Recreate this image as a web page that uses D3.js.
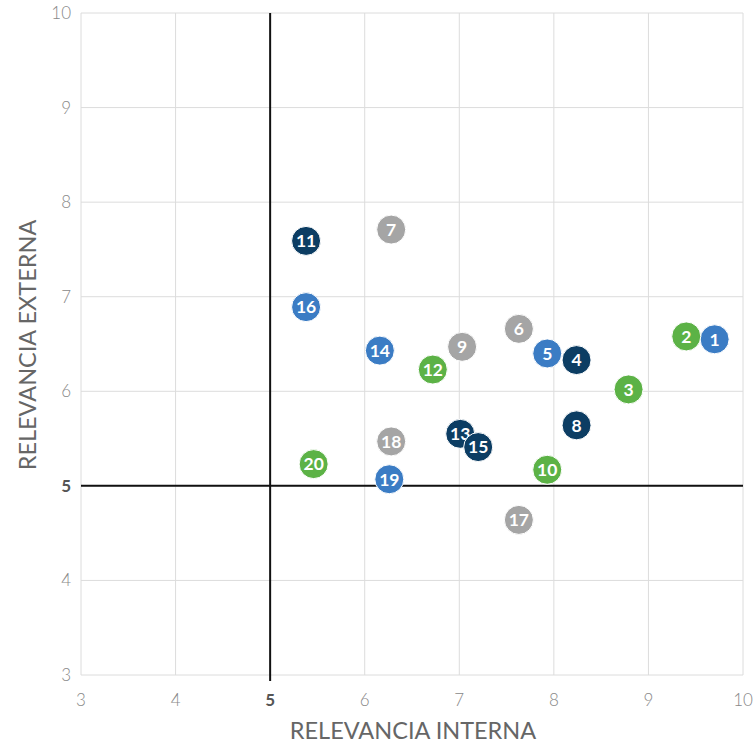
<!DOCTYPE html>
<html>
<head>
<meta charset="utf-8">
<script src="https://cdn.jsdelivr.net/npm/d3@7"></script>
<style>
  body { margin: 0; background: #fff; }
  text { font-family: "Lato", "Open Sans", sans-serif; }
</style>
</head>
<body>
<div id="chart"></div>
<script>
const ids = [1, 2, 3, 4, 5, 6, 7, 8, 9, 10, 11, 12, 13, 14, 15, 16, 17, 18, 19, 20]
const interna = [9.70, 9.40, 8.79, 8.24, 7.93, 7.63, 6.28, 8.24, 7.03, 7.93, 5.38, 6.72, 7.01, 6.16, 7.20, 5.38, 7.63, 6.28, 6.26, 5.46]
const externa = [6.55, 6.58, 6.02, 6.33, 6.40, 6.66, 7.71, 5.64, 6.47, 5.17, 7.59, 6.23, 5.55, 6.43, 5.41, 6.89, 4.64, 5.47, 5.07, 5.23]
const grupo = ["azul", "verde", "verde", "marino", "azul", "gris", "gris", "marino", "gris", "verde",
    "marino", "verde", "marino", "azul", "marino", "azul", "gris", "gris", "azul", "verde"]
const ticks = [3, 4, 5, 6, 7, 8, 9, 10]

const colores = { azul: "#3b7cc4", verde: "#5cb246", marino: "#0c3d63", gris: "#a5a5a5" }

const width = 756, height = 744
const margin = { top: 13, right: 13, bottom: 69, left: 81 }

const svg = d3.select("#chart")
    .append("svg")
    .attr("width", width)
    .attr("height", height)

let x = d3.scaleLinear().domain([3, 10]).range([margin.left, width - margin.right])
let y = d3.scaleLinear().domain([3, 10]).range([height - margin.bottom, margin.top])

const grid = svg.append("g").attr("class", "grid")

grid.selectAll("line.v").data(ticks).enter().append("line")
    .attr("x1", d => x(d)).attr("x2", d => x(d))
    .attr("y1", y(3)).attr("y2", y(10))
    .attr("stroke", "#dcdcdc").attr("stroke-width", 1)

grid.selectAll("line.h").data(ticks).enter().append("line")
    .attr("x1", x(3)).attr("x2", x(10))
    .attr("y1", d => y(d)).attr("y2", d => y(d))
    .attr("stroke", "#dcdcdc").attr("stroke-width", 1)

// ejes en 5
svg.append("line")
    .attr("x1", x(5)).attr("x2", x(5))
    .attr("y1", y(10)).attr("y2", y(3) + 6)
    .attr("stroke", "#111").attr("stroke-width", 2)
svg.append("line")
    .attr("x1", x(3)).attr("x2", x(10))
    .attr("y1", y(5)).attr("y2", y(5))
    .attr("stroke", "#111").attr("stroke-width", 2)

// etiquetas de ticks
svg.append("g").selectAll("text").data(ticks).enter().append("text")
    .attr("x", d => x(d))
    .attr("y", y(3) + 31)
    .attr("text-anchor", "middle")
    .attr("font-size", 17)
    .attr("font-weight", d => d == 5 ? 700 : 300)
    .attr("fill", d => d == 5 ? "#555" : "#888")
    .text(d => d)

svg.append("g").selectAll("text").data(ticks).enter().append("text")
    .attr("x", x(3) - 10)
    .attr("y", d => y(d) + 6)
    .attr("text-anchor", "end")
    .attr("font-size", 17)
    .attr("font-weight", d => d == 5 ? 700 : 300)
    .attr("fill", d => d == 5 ? "#555" : "#888")
    .text(d => d)

svg.append("text")
    .attr("x", (x(3) + x(10)) / 2 + 1)
    .attr("y", height - 5)
    .attr("text-anchor", "middle")
    .attr("font-size", 23.5)
    .attr("fill", "#666")
    .text("RELEVANCIA INTERNA")

svg.append("text")
    .attr("transform", "rotate(-90)")
    .attr("x", -(y(3) + y(10)) / 2 - 1)
    .attr("y", 36)
    .attr("text-anchor", "middle")
    .attr("font-size", 23.5)
    .attr("fill", "#666")
    .text("RELEVANCIA EXTERNA")

const puntos = ids.map((id, i) => ({ id: id, x: interna[i], y: externa[i], g: grupo[i] }))

const nodos = svg.append("g").selectAll("g").data(puntos).enter().append("g")
    .attr("transform", d => `translate(${x(d.x)}, ${y(d.y)})`)

nodos.append("circle")
    .attr("r", 14.5)
    .attr("fill", d => colores[d.g])
    .attr("stroke", "#fff")
    .attr("stroke-width", 1)

nodos.append("text")
    .attr("text-anchor", "middle")
    .attr("dy", "0.36em")
    .attr("font-size", 17.5)
    .attr("font-weight", 700)
    .attr("fill", "#fff")
    .text(d => d.id)
</script>
</body>
</html>
